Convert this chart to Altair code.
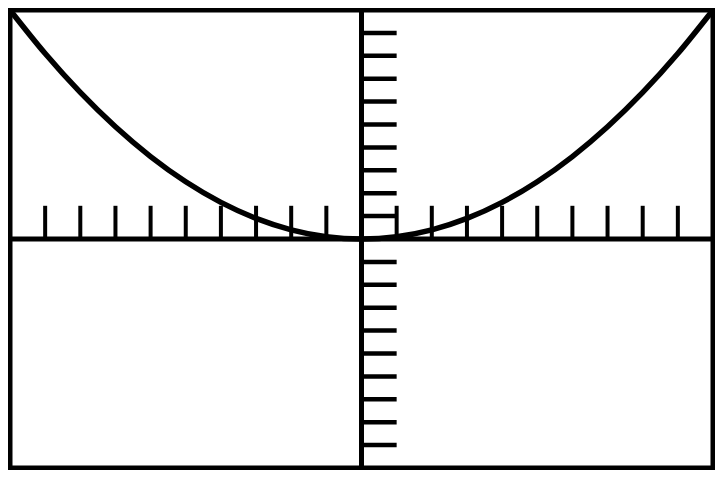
import altair as alt
import pandas as pd

# Curve (parabola through the corners)
curve_x = [-10, -9, -8, -7, -6, -5, -4, -3, -2, -1, 0, 1, 2, 3, 4, 5, 6, 7, 8, 9, 10]
curve_y = [10.0, 8.1, 6.4, 4.9, 3.6, 2.5, 1.6, 0.9, 0.4, 0.1, 0.0,
           0.1, 0.4, 0.9, 1.6, 2.5, 3.6, 4.9, 6.4, 8.1, 10.0]

# Window and tick marks
window = {"xmin": -10, "xmax": 10, "ymin": -10, "ymax": 10}
x_ticks = [-9, -8, -7, -6, -5, -4, -3, -2, -1, 1, 2, 3, 4, 5, 6, 7, 8, 9]
y_ticks = [-9, -8, -7, -6, -5, -4, -3, -2, -1, 1, 2, 3, 4, 5, 6, 7, 8, 9]

W, H = 707, 462
xs = alt.Scale(domain=[-10.057, 10.057], nice=False, zero=False)
ys = alt.Scale(domain=[-10.087, 10.087], nice=False, zero=False)

curve_df = pd.DataFrame({"x": curve_x, "y": curve_y})
frame_df = pd.DataFrame([window])
xaxis_df = pd.DataFrame({"x": [window["xmin"]], "x2": [window["xmax"]], "y": [0]})
yaxis_df = pd.DataFrame({"y": [window["ymin"]], "y2": [window["ymax"]], "x": [0]})
xt_df = pd.DataFrame({"x": x_ticks, "y": [0] * len(x_ticks), "y2": [1.45] * len(x_ticks)})
yt_df = pd.DataFrame({"y": y_ticks, "x": [0] * len(y_ticks), "x2": [1.0] * len(y_ticks)})

frame = alt.Chart(frame_df).mark_rect(fill="white", stroke="black", strokeWidth=5).encode(
    x=alt.X("xmin:Q", scale=xs, axis=None), x2="xmax:Q",
    y=alt.Y("ymin:Q", scale=ys, axis=None), y2="ymax:Q",
)
xaxis = alt.Chart(xaxis_df).mark_rule(color="black", strokeWidth=5).encode(
    x=alt.X("x:Q", scale=xs, axis=None), x2="x2:Q",
    y=alt.Y("y:Q", scale=ys, axis=None),
)
yaxis = alt.Chart(yaxis_df).mark_rule(color="black", strokeWidth=5).encode(
    y=alt.Y("y:Q", scale=ys, axis=None), y2="y2:Q",
    x=alt.X("x:Q", scale=xs, axis=None),
)
xticks = alt.Chart(xt_df).mark_rule(color="black", strokeWidth=4).encode(
    x=alt.X("x:Q", scale=xs, axis=None),
    y=alt.Y("y:Q", scale=ys, axis=None), y2="y2:Q",
)
yticks = alt.Chart(yt_df).mark_rule(color="black", strokeWidth=4.5).encode(
    y=alt.Y("y:Q", scale=ys, axis=None),
    x=alt.X("x:Q", scale=xs, axis=None), x2="x2:Q",
)
curve = alt.Chart(curve_df).mark_line(color="black", strokeWidth=5.5, interpolate="monotone").encode(
    x=alt.X("x:Q", scale=xs, axis=None),
    y=alt.Y("y:Q", scale=ys, axis=None),
)

chart = alt.layer(frame, xaxis, yaxis, xticks, yticks, curve).properties(
    width=W, height=H, autosize=alt.AutoSizeParams(type="none"), padding=0,
    background="white",
).configure_view(stroke=None)

chart.save("out.html", embed_options={"renderer": "svg", "actions": False})
